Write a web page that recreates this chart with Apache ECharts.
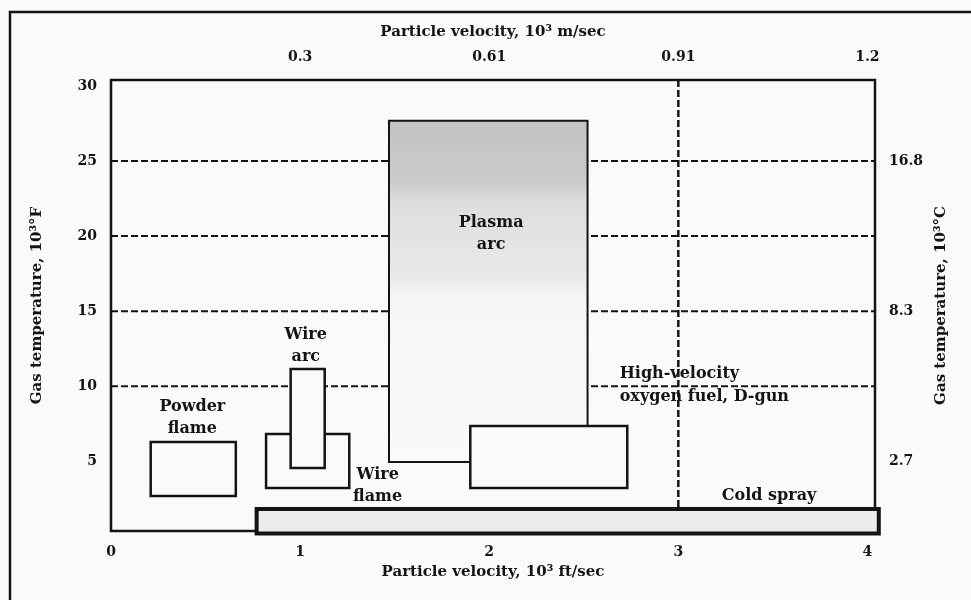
<!DOCTYPE html>
<html>
<head>
<meta charset="utf-8">
<script src="https://cdn.jsdelivr.net/npm/echarts@6/dist/echarts.min.js"></script>
<style>
  html, body { margin: 0; padding: 0; background: #fafafa; }
  #mychart { width: 971px; height: 600px; }
</style>
</head>
<body>
<div id="mychart"></div>
<script>
  // bottom axis: particle velocity, 10^3 ft/sec
  var ftTicks = [0, 1, 2, 3, 4]
  // top axis: same positions in 10^3 m/sec
  var mTicks = [1, 2, 3, 4]
  var mLabels = ['0.3', '0.61', '0.91', '1.2']
  // left axis: gas temperature, 10^3 F
  var fTicks = [5, 10, 15, 20, 25, 30]
  // right axis: same positions in 10^3 C
  var cTicks = [5, 15, 25]
  var cLabels = ['2.7', '8.3', '16.8']
  // dashed reference lines
  var gridTemps = [10, 15, 20, 25]
  var refVelocity = 3
  var refTop = 30.4
  var refBottom = 1.82

  // process regions (drawn in this order)
  var boxNames = ['Plasma arc', 'HVOF, D-gun', 'Wire flame', 'Wire arc', 'Powder flame', 'Cold spray']
  var boxX0 = [1.47, 1.90, 0.82, 0.95, 0.21, 0.77]
  var boxX1 = [2.52, 2.73, 1.26, 1.13, 0.66, 4.06]
  var boxY0 = [4.95, 3.22, 3.22, 4.55, 2.68, 0.18]
  var boxY1 = [27.68, 7.35, 6.82, 11.15, 6.28, 1.82]

  // annotation texts and their anchors
  var noteText = ['Powder\nflame', 'Wire\narc', 'Wire\nflame', 'Plasma\narc', 'Cold spray']
  var noteX = [0.43, 1.03, 1.41, 2.01, 3.48]
  var noteY = [7.92, 12.72, 3.35, 20.15, 2.68]
  var hvofText = 'High-velocity\noxygen fuel, D-gun'
  var hvofX = 2.69
  var hvofY = 10.08

  var FONT = 'DejaVu Serif'
  var INK = '#141414'

  var plasmaFill = new echarts.graphic.LinearGradient(0, 0, 0, 1, [
    { offset: 0, color: '#c2c2c2' },
    { offset: 0.18, color: '#cbcbcb' },
    { offset: 0.24, color: '#dedede' },
    { offset: 0.46, color: '#e9e9e9' },
    { offset: 0.52, color: '#f6f6f6' },
    { offset: 1, color: '#fafafa' }
  ])
  var boxFills = [plasmaFill, '#fafafa', '#fafafa', '#fafafa', '#fafafa', '#ececec']
  var boxWidths = [2, 2.5, 2.5, 2.5, 2.5, 4]

  function renderBox(params, api) {
    var p0 = api.coord([api.value(0), api.value(3)])
    var p1 = api.coord([api.value(1), api.value(2)])
    var i = params.dataIndex
    return {
      type: 'rect',
      shape: { x: p0[0], y: p0[1], width: p1[0] - p0[0], height: p1[1] - p0[1] },
      style: { fill: boxFills[i], stroke: INK, lineWidth: boxWidths[i] }
    }
  }

  var labelStyle = {
    fontFamily: FONT,
    fontWeight: 'bold',
    fontSize: 14,
    color: INK
  }
  var titleStyle = Object.assign({}, labelStyle, { fontSize: 15 })
  var noteStyle = Object.assign({}, labelStyle, { fontSize: 16, textBorderWidth: 0 })

  var gridSeries = gridTemps.map(function (t) {
    return {
      type: 'line',
      silent: true,
      symbol: 'none',
      z: 1,
      lineStyle: { color: INK, width: 2, type: [7, 3] },
      data: [[0, t], [4.04, t]]
    }
  })

  var boxData = boxNames.map(function (n, i) {
    return { name: n, value: [boxX0[i], boxX1[i], boxY0[i], boxY1[i]] }
  })

  var option = {
    backgroundColor: '#fafafa',
    animation: false,
    grid: {
      show: true,
      left: 111,
      right: 96,
      top: 80,
      bottom: 69,
      borderColor: INK,
      borderWidth: 2.5,
      backgroundColor: 'transparent'
    },
    graphic: [{
      type: 'rect',
      shape: { x: 10, y: 12, width: 1000, height: 700 },
      style: { fill: null, stroke: INK, lineWidth: 2.5 },
      z: -1
    }],
    xAxis: [
      {
        type: 'value',
        min: 0,
        max: 4.04,
        position: 'bottom',
        name: 'Particle velocity, 10³ ft/sec',
        nameLocation: 'middle',
        nameGap: 34,
        nameTextStyle: titleStyle,
        axisLine: { show: false },
        axisTick: { show: false },
        splitLine: { show: false },
        axisLabel: Object.assign({ customValues: ftTicks, margin: 14 }, labelStyle)
      },
      {
        type: 'value',
        min: 0,
        max: 4.04,
        position: 'top',
        name: 'Particle velocity, 10³ m/sec',
        nameLocation: 'middle',
        nameGap: 40,
        nameTextStyle: titleStyle,
        axisLine: { show: false },
        axisTick: { show: false },
        splitLine: { show: false },
        axisLabel: Object.assign({
          customValues: mTicks,
          margin: 16,
          formatter: function (v) { return mLabels[mTicks.indexOf(v)] }
        }, labelStyle)
      }
    ],
    yAxis: [
      {
        type: 'value',
        min: 0.35,
        max: 30.4,
        position: 'left',
        name: 'Gas temperature, 10³°F',
        nameLocation: 'middle',
        nameRotate: 90,
        nameGap: 66,
        nameTextStyle: titleStyle,
        axisLine: { show: false },
        axisTick: { show: false },
        splitLine: { show: false },
        axisLabel: Object.assign({ customValues: fTicks, margin: 14 }, labelStyle)
      },
      {
        type: 'value',
        min: 0.35,
        max: 30.4,
        position: 'right',
        name: 'Gas temperature, 10³°C',
        nameLocation: 'middle',
        nameRotate: 90,
        nameGap: 52,
        nameTextStyle: titleStyle,
        axisLine: { show: false },
        axisTick: { show: false },
        splitLine: { show: false },
        axisLabel: Object.assign({
          customValues: cTicks,
          margin: 14,
          formatter: function (v) { return cLabels[cTicks.indexOf(v)] }
        }, labelStyle)
      }
    ],
    series: gridSeries.concat([
      {
        type: 'line',
        silent: true,
        symbol: 'none',
        z: 1,
        lineStyle: { color: INK, width: 2.5, type: [7, 3] },
        data: [[refVelocity, refTop], [refVelocity, refBottom]]
      },
      {
        type: 'custom',
        silent: true,
        clip: false,
        z: 2,
        renderItem: renderBox,
        encode: { x: [0, 1], y: [2, 3] },
        data: boxData
      },
      {
        type: 'scatter',
        silent: true,
        symbolSize: 0,
        z: 3,
        itemStyle: { opacity: 1 },
        label: Object.assign({
          show: true,
          position: 'inside',
          align: 'center',
          lineHeight: 22,
          formatter: function (p) { return p.name }
        }, noteStyle),
        data: noteText.map(function (t, i) {
          return { name: t, value: [noteX[i], noteY[i]] }
        })
      },
      {
        type: 'scatter',
        silent: true,
        symbolSize: 0,
        z: 3,
        itemStyle: { opacity: 1 },
        label: Object.assign({
          show: true,
          position: 'inside',
          align: 'left',
          lineHeight: 23,
          formatter: function (p) { return p.name }
        }, noteStyle),
        data: [{ name: hvofText, value: [hvofX, hvofY] }]
      }
    ])
  }

  var chart = echarts.init(document.getElementById('mychart'))
  chart.setOption(option)
</script>
</body>
</html>
